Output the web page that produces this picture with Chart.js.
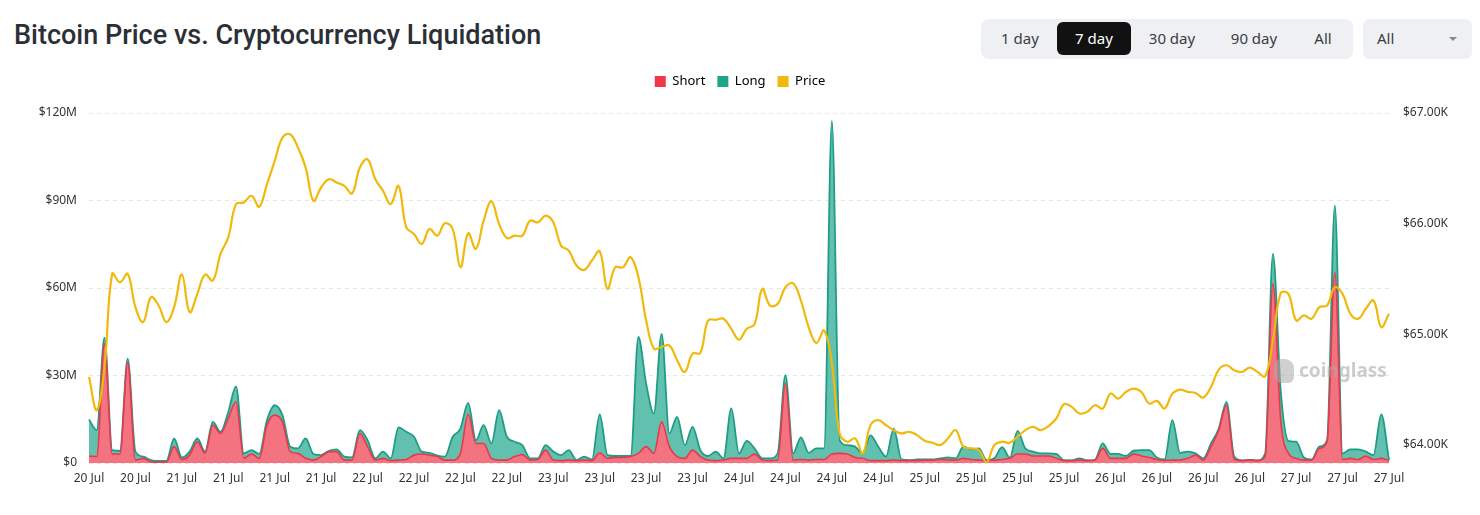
<!DOCTYPE html>
<html>
<head>
<meta charset="utf-8">
<title>Bitcoin Price vs. Cryptocurrency Liquidation</title>
<script src="https://cdn.jsdelivr.net/npm/chart.js@4.4.1/dist/chart.umd.min.js"></script>
<style>
  html, body { margin: 0; padding: 0; background: #fff; }
  #wrap { position: relative; width: 1480px; height: 515px; overflow: hidden; font-family: 'Noto Sans', sans-serif; }
  #chart { position: absolute; left: 0; top: 0; }
  .title { position: absolute; left: 14px; top: 19px; margin: 0; font: 500 27px Roboto, sans-serif; color: #2b2f36; white-space: nowrap; }
  .tabs { position: absolute; left: 981px; top: 19px; width: 372px; height: 40px; background: #eef0f3; border-radius: 8px; }
  .tab { position: absolute; top: 3px; height: 33px; line-height: 33px; text-align: center; font-size: 15px; color: #3a3d42; border-radius: 6px; }
  .tab.active { background: #111; color: #fff; }
  .select { position: absolute; left: 1363px; top: 19px; width: 109px; height: 40px; background: #eef0f3; border-radius: 7px; }
  .select span { position: absolute; left: 14px; top: 0; line-height: 39px; font-size: 15px; color: #3a3d42; }
  .select i { position: absolute; left: 86px; top: 18px; width: 0; height: 0; border-left: 4px solid transparent; border-right: 4px solid transparent; border-top: 4px solid #888; }
  .mark { position: absolute; left: 1274px; top: 357px; z-index: 2; color: rgba(170, 170, 170, 0.6); font: bold 19px 'Noto Sans', sans-serif; }
  .mark b { display: inline-block; width: 20px; height: 24px; margin-right: 5px; vertical-align: -6px; background: rgba(170, 170, 170, 0.55); border-radius: 7px 9px 6px 8px; }
</style>
</head>
<body>
<div id="wrap">
  <h1 class="title">Bitcoin Price vs. Cryptocurrency Liquidation</h1>
  <div class="tabs">
    <div class="tab" style="left:4px;width:70px">1 day</div>
    <div class="tab active" style="left:76px;width:74px">7 day</div>
    <div class="tab" style="left:152px;width:78px">30 day</div>
    <div class="tab" style="left:234px;width:78px">90 day</div>
    <div class="tab" style="left:319px;width:46px">All</div>
  </div>
  <div class="select"><span>All</span><i></i></div>
  <div class="mark"><b></b>coinglass</div>
  <canvas id="chart" width="1480" height="515"></canvas>
</div>
<script>
// hourly points, 20 Jul 12:00 -> 27 Jul 12:00
const startTime = Date.UTC(2024, 6, 20, 12);

// liquidations in $M
const shortLiq = [
  2.4, 2.2, 40.9, 3.1, 3.1, 34.6, 1.0, 1.6, 0.4, 0.3, 0.3, 5.6, 1.2, 2.7, 7.3, 3.3, 13.0, 10.1, 15.3, 21.0,
  1.6, 3.1, 1.6, 13.0, 16.4, 14.1, 3.9, 3.3, 1.6,
  1.0, 2.2, 3.9, 3.9, 1.0, 1.0, 10.1, 5.6, 1.0, 1.6, 0.8, 1.0, 1.2, 2.7, 3.1, 2.7, 2.2, 1.0, 1.0, 3.3,
  16.7, 6.7, 6.7, 1.6, 1.0, 1.0, 2.2, 2.9,
  1.0, 1.2, 4.4, 1.0, 0.8, 1.0, 0.8, 1.0, 0.8, 3.5, 1.6, 1.9, 1.9, 2.2, 3.3, 5.6, 3.3, 14.1, 5.6, 2.2,
  1.6, 4.4, 2.2, 1.0, 0.8, 1.0, 1.6,
  1.6, 1.6, 3.1, 1.0, 0.8, 1.0, 27.2, 1.0, 1.2, 1.0, 1.2, 1.2, 3.1, 3.3, 3.1, 1.9, 1.6, 0.8, 0.8, 0.8,
  1.0, 0.8, 0.8, 0.8, 1.0, 1.0, 1.2, 1.1,
  1.0, 1.6, 1.2, 1.0, 0.8, 1.0, 1.2, 1.6, 3.1, 3.1, 2.4, 2.4, 2.4, 1.6, 0.8, 0.8, 1.0, 0.8, 1.0, 5.0,
  1.6, 1.6, 1.6, 3.1, 2.4, 1.9, 1.2, 0.9,
  1.0, 1.0, 1.6, 2.7, 1.0, 5.6, 11.3, 19.8, 1.2, 0.8, 1.0, 0.8, 2.2, 61.4, 14.7, 3.3, 1.6, 1.0, 1.0, 5.0,
  7.3, 65.4, 1.2, 1.6, 1.2, 2.4, 1.2, 1.6, 0.8
];
const longLiq = [
  12.5, 9.1, 2.1, 1.3, 1.1, 1.2, 2.9, 0.6, 0.6, 0.4, 0.4, 2.8, 0.7, 1.2, 1.1, 0.6, 1.1, 0.6, 2.2, 5.3,
  1.7, 1.3, 1.5, 1.7, 3.4, 2.3, 1.7, 1.7, 6.8,
  2.1, 0.5, 0.3, 0.8, 1.2, 0.9, 1.2, 2.2, 0.6, 2.3, 0.8, 11.2, 9.5, 6.3, 0.8, 0.8, 0.3, 1.2, 8.0, 8.5,
  3.9, 1.1, 6.3, 5.1, 17.1, 8.0, 5.1, 3.2,
  0.6, 0.4, 1.7, 2.9, 1.9, 3.4, 0.2, 1.2, 0.4, 13.2, 1.1, 0.5, 0.5, 0.2, 39.9, 21.6, 13.6, 30.2, 4.5, 13.6,
  4.5, 8.0, 2.2, 1.4, 3.1, 0.6, 17.1,
  1.7, 6.0, 1.9, 0.6, 0.8, 2.3, 2.9, 2.3, 7.6, 2.5, 3.8, 3.8, 114.2, 4.5, 3.0, 3.7, 1.7, 8.7, 4.8, 1.4,
  10.8, 0.4, 0.2, 0.4, 0.2, 0.2, 0.4, 0.8,
  0.6, 4.0, 3.5, 4.0, 0.2, 0.6, 4.2, 0.2, 7.9, 1.9, 1.5, 0.9, 0.9, 1.5, 0.2, 0.1, 0.6, 0.1, 0.1, 1.7,
  1.5, 1.5, 0.8, 1.1, 2.0, 2.5, 0.7, 0.3,
  13.7, 2.5, 2.3, 0.6, 0.6, 1.1, 0.5, 1.1, 1.0, 0.1, 0.1, 0.1, 1.1, 10.3, 10.3, 4.3, 5.7, 0.9, 0.2, 0.6,
  0.5, 22.8, 2.1, 3.1, 3.5, 1.5, 1.5, 15.1, 0.2
];
// BTC price in $
const btcPrice = [
  64616, 64315, 64706, 65547, 65471, 65547, 65246, 65111, 65336, 65261, 65111, 65246, 65541, 65201, 65366,
  65541, 65486, 65727, 65877, 66177, 66192, 66252, 66153, 66357, 66567, 66778, 66808, 66688, 66507,
  66207, 66327, 66402, 66372, 66342, 66273, 66507, 66582, 66402, 66297, 66177, 66342, 65967, 65907, 65817,
  65952, 65892, 66003, 65952, 65606, 65913, 65772, 66027, 66201, 65997, 65871, 65892, 65892,
  66027, 66012, 66072, 66012, 65802, 65757, 65622, 65583, 65667, 65751, 65411, 65606, 65606, 65697, 65516,
  65126, 64871, 64886, 64901, 64766, 64661, 64826, 64832, 65126, 65132, 65141, 65050,
  64952, 65051, 65090, 65411, 65261, 65276, 65426, 65462, 65306, 65066, 64922, 65036, 64736, 64105, 64030,
  64060, 63925, 64180, 64225, 64180, 64135, 64105, 64120, 64090, 64039, 64021, 64000, 64060,
  64135, 63985, 63970, 63955, 63845, 64000, 64030, 64021, 64075, 64135, 64165, 64135, 64171, 64240, 64369,
  64345, 64285, 64300, 64360, 64330, 64465, 64420, 64480, 64510, 64480, 64375, 64399, 64330,
  64465, 64501, 64480, 64471, 64429, 64525, 64682, 64721, 64676, 64661, 64700, 64661, 64622, 64946, 65372,
  65366, 65126, 65171, 65141, 65246, 65261, 65426, 65366, 65186, 65141, 65231, 65306, 65066, 65186
];
const priceTicks = [64000, 65000, 66000, 67000];
const legendColors = ['#f0384b', '#20a58b', '#f0b90b'];

const months = ['Jan', 'Feb', 'Mar', 'Apr', 'May', 'Jun', 'Jul', 'Aug', 'Sep', 'Oct', 'Nov', 'Dec'];
const times = btcPrice.map((p, i) => {
    const d = new Date(startTime + i * 3600000);
    const dd = String(d.getUTCDate()).padStart(2, '0');
    const hh = String(d.getUTCHours()).padStart(2, '0');
    return dd + ' ' + months[d.getUTCMonth()] + ' ' + hh + ':00';
});

// push the plot area down below the legend
const legendGap = {
    id: 'legendGap',
    beforeInit(chart) {
        const fit = chart.legend.fit;
        chart.legend.fit = function () {
            fit.call(this);
            this.height += 15;
        };
    }
};

Chart.defaults.font.family = "'Noto Sans', sans-serif";
Chart.defaults.color = '#333';

new Chart(document.getElementById('chart'), {
    type: 'line',
    plugins: [legendGap],
    data: {
        labels: times,
        datasets: [
            {
                label: 'Short',
                data: shortLiq,
                yAxisID: 'y',
                order: 1,
                borderColor: '#e8394c',
                borderWidth: 1.6,
                backgroundColor: 'rgba(240, 56, 75, 0.7)',
                fill: 'origin',
                cubicInterpolationMode: 'monotone'
            },
            {
                label: 'Long',
                data: longLiq,
                yAxisID: 'y',
                order: 2,
                borderColor: '#1f9c85',
                borderWidth: 1.8,
                backgroundColor: 'rgba(32, 165, 139, 0.7)',
                fill: '-1',
                cubicInterpolationMode: 'monotone'
            },
            {
                label: 'Price',
                data: btcPrice,
                yAxisID: 'y1',
                order: 0,
                borderColor: '#f0b90b',
                borderWidth: 2.2,
                fill: false,
                tension: 0.4
            }
        ]
    },
    options: {
        responsive: false,
        animation: false,
        devicePixelRatio: 1,
        layout: { padding: { top: 63, left: 0, right: 0, bottom: 0 } },
        elements: { point: { radius: 0 } },
        plugins: {
            tooltip: { enabled: false },
            legend: {
                position: 'top',
                labels: {
                    boxWidth: 11,
                    boxHeight: 11,
                    padding: 12,
                    color: '#555',
                    font: { size: 13 },
                    generateLabels: chart => chart.data.datasets.map((ds, i) => ({
                        text: ds.label,
                        fillStyle: legendColors[i],
                        strokeStyle: legendColors[i],
                        lineWidth: 0,
                        hidden: !chart.isDatasetVisible(i),
                        datasetIndex: i
                    }))
                }
            }
        },
        scales: {
            x: {
                grid: { display: false, drawTicks: false },
                border: { display: false },
                ticks: {
                    autoSkip: false,
                    maxRotation: 0,
                    padding: 8,
                    font: { size: 12 },
                    callback(v, i) {
                        return i % 6 === 0 ? this.getLabelForValue(v).slice(0, 6) : '';
                    }
                },
                afterFit: s => { s.height = 52; }
            },
            y: {
                position: 'left',
                stacked: true,
                min: 0,
                max: 120,
                grid: { color: '#e6e6e6', drawTicks: false },
                border: { display: false, dash: [4, 4] },
                ticks: {
                    stepSize: 30,
                    padding: 12,
                    font: { size: 12 },
                    callback: v => '$' + v + (v ? 'M' : '')
                },
                afterFit: s => { s.width = 89; }
            },
            y1: {
                position: 'right',
                min: 63838,
                max: 67000,
                grid: { display: false, drawTicks: false },
                border: { display: false },
                afterBuildTicks: s => { s.ticks = priceTicks.map(v => ({ value: v })); },
                ticks: {
                    padding: 14,
                    font: { size: 12 },
                    callback: v => '$' + (v / 1000).toFixed(2) + 'K'
                },
                afterFit: s => { s.width = 91; }
            }
        }
    }
});
</script>
</body>
</html>
